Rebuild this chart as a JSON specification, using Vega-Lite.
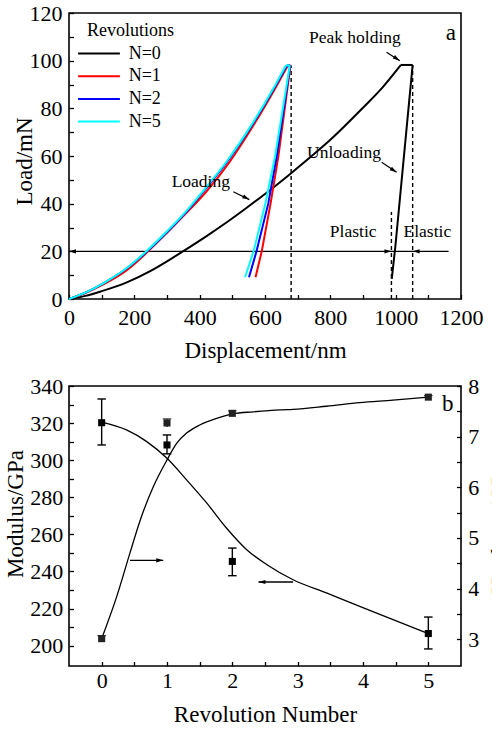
{
  "$schema": "https://vega.github.io/schema/vega-lite/v6.json",
  "padding": {"left": 3, "top": 1, "right": 0, "bottom": 0},
  "spacing": 87,
  "bounds": "flush",
  "datasets": {
    "loading": [
      {"N": "N=0", "d": 0, "L": 0}, {"N": "N=0", "d": 50, "L": 1.3}, {"N": "N=0", "d": 100, "L": 3.3},
      {"N": "N=0", "d": 177, "L": 7}, {"N": "N=0", "d": 250, "L": 11.8}, {"N": "N=0", "d": 300, "L": 15.8},
      {"N": "N=0", "d": 350, "L": 20.1}, {"N": "N=0", "d": 420, "L": 26.3}, {"N": "N=0", "d": 483, "L": 32.2},
      {"N": "N=0", "d": 544, "L": 38.3}, {"N": "N=0", "d": 605, "L": 44.6}, {"N": "N=0", "d": 680, "L": 52.8},
      {"N": "N=0", "d": 750, "L": 60.8}, {"N": "N=0", "d": 800, "L": 66.8}, {"N": "N=0", "d": 901, "L": 80.4},
      {"N": "N=0", "d": 960, "L": 88.8}, {"N": "N=0", "d": 1016, "L": 98.2},
      {"N": "N=1", "d": 0, "L": 0}, {"N": "N=1", "d": 50, "L": 2.5}, {"N": "N=1", "d": 105, "L": 6.1},
      {"N": "N=1", "d": 177, "L": 12.1}, {"N": "N=1", "d": 236, "L": 19.2}, {"N": "N=1", "d": 300, "L": 27.8},
      {"N": "N=1", "d": 350, "L": 34.8}, {"N": "N=1", "d": 420, "L": 45}, {"N": "N=1", "d": 490, "L": 57.2},
      {"N": "N=1", "d": 568, "L": 73.6}, {"N": "N=1", "d": 628, "L": 87.6}, {"N": "N=1", "d": 670, "L": 98},
      {"N": "N=2", "d": 0, "L": 0}, {"N": "N=2", "d": 50, "L": 2.7}, {"N": "N=2", "d": 105, "L": 6.6},
      {"N": "N=2", "d": 177, "L": 12.9}, {"N": "N=2", "d": 229, "L": 18.8}, {"N": "N=2", "d": 300, "L": 28.1},
      {"N": "N=2", "d": 350, "L": 35.2}, {"N": "N=2", "d": 413, "L": 45.4}, {"N": "N=2", "d": 485, "L": 57.8},
      {"N": "N=2", "d": 566, "L": 74.2}, {"N": "N=2", "d": 627, "L": 88.2}, {"N": "N=2", "d": 667, "L": 98},
      {"N": "N=5", "d": 0, "L": 0}, {"N": "N=5", "d": 50, "L": 2.7}, {"N": "N=5", "d": 105, "L": 6.6},
      {"N": "N=5", "d": 177, "L": 13.0}, {"N": "N=5", "d": 227, "L": 18.8}, {"N": "N=5", "d": 300, "L": 28.4},
      {"N": "N=5", "d": 350, "L": 35.5}, {"N": "N=5", "d": 411, "L": 45.4}, {"N": "N=5", "d": 483, "L": 57.8},
      {"N": "N=5", "d": 564, "L": 74.2}, {"N": "N=5", "d": 625, "L": 88.2}, {"N": "N=5", "d": 664, "L": 98}
    ],
    "unloading": [
      {"N": "N=0", "seg": "hold", "d": 1016, "L": 98.2}, {"N": "N=0", "seg": "hold", "d": 1052, "L": 98.2},
      {"N": "N=0", "seg": "unload", "d": 988, "L": 8.4}, {"N": "N=0", "seg": "unload", "d": 999, "L": 22},
      {"N": "N=0", "seg": "unload", "d": 1015, "L": 45}, {"N": "N=0", "seg": "unload", "d": 1033, "L": 71},
      {"N": "N=0", "seg": "unload", "d": 1052, "L": 98.2},
      {"N": "N=1", "seg": "hold", "d": 670, "L": 98}, {"N": "N=1", "seg": "hold", "d": 678, "L": 98},
      {"N": "N=1", "seg": "unload", "d": 571, "L": 9.1}, {"N": "N=1", "seg": "unload", "d": 590, "L": 20},
      {"N": "N=1", "seg": "unload", "d": 617, "L": 40}, {"N": "N=1", "seg": "unload", "d": 641, "L": 60},
      {"N": "N=1", "seg": "unload", "d": 678, "L": 98},
      {"N": "N=2", "seg": "hold", "d": 667, "L": 98}, {"N": "N=2", "seg": "hold", "d": 677, "L": 98},
      {"N": "N=2", "seg": "unload", "d": 551, "L": 9.1}, {"N": "N=2", "seg": "unload", "d": 574, "L": 20},
      {"N": "N=2", "seg": "unload", "d": 610, "L": 40}, {"N": "N=2", "seg": "unload", "d": 636, "L": 60},
      {"N": "N=2", "seg": "unload", "d": 677, "L": 98},
      {"N": "N=5", "seg": "hold", "d": 664, "L": 98}, {"N": "N=5", "seg": "hold", "d": 676, "L": 98},
      {"N": "N=5", "seg": "unload", "d": 539, "L": 9.1}, {"N": "N=5", "seg": "unload", "d": 565, "L": 20},
      {"N": "N=5", "seg": "unload", "d": 601, "L": 40}, {"N": "N=5", "seg": "unload", "d": 631, "L": 60},
      {"N": "N=5", "seg": "unload", "d": 676, "L": 98}
    ],
    "modCurve": [
      {"n": 0, "v": 320.5}, {"n": 0.38, "v": 316.3}, {"n": 0.69, "v": 310}, {"n": 1.0, "v": 301},
      {"n": 1.3, "v": 289.4}, {"n": 1.61, "v": 276.8}, {"n": 1.91, "v": 263.4}, {"n": 2.22, "v": 251.7},
      {"n": 2.53, "v": 243.6}, {"n": 2.93, "v": 235.5}, {"n": 3.44, "v": 228.4}, {"n": 3.95, "v": 221.2},
      {"n": 4.46, "v": 214}, {"n": 5, "v": 206.5}
    ],
    "hardCurve": [
      {"n": 0, "h": 3.01}, {"n": 0.23, "h": 3.84}, {"n": 0.43, "h": 4.69}, {"n": 0.59, "h": 5.35},
      {"n": 0.79, "h": 6.01}, {"n": 1.0, "h": 6.54}, {"n": 1.15, "h": 6.87}, {"n": 1.3, "h": 7.07},
      {"n": 1.5, "h": 7.23}, {"n": 1.76, "h": 7.36}, {"n": 2.01, "h": 7.45}, {"n": 2.32, "h": 7.49},
      {"n": 2.73, "h": 7.53}, {"n": 2.93, "h": 7.54}, {"n": 3.44, "h": 7.6}, {"n": 3.95, "h": 7.67},
      {"n": 4.46, "h": 7.72}, {"n": 5, "h": 7.78}
    ],
    "modErr": [
      {"n": 0, "v": 320.2, "lo": 308.2, "hi": 333},
      {"n": 1, "v": 308.2, "lo": 303.4, "hi": 313.6},
      {"n": 2, "v": 245.4, "lo": 237.7, "hi": 252.6},
      {"n": 5, "v": 206.5, "lo": 198.2, "hi": 215.4}
    ],
    "hardErr": [
      {"n": 0, "h": 3.01, "lo": 2.95, "hi": 3.07},
      {"n": 1, "h": 7.27, "lo": 7.19, "hi": 7.35},
      {"n": 2, "h": 7.46, "lo": 7.41, "hi": 7.51},
      {"n": 5, "h": 7.78, "lo": 7.75, "hi": 7.81}
    ]
  },
  "vconcat": [
    {
      "width": 392,
      "height": 286,
      "layer": [
        {
          "data": {"values": [{"d": 680, "L": 0, "L2": 98}, {"d": 987, "L": 0, "L2": 36.5}, {"d": 1052, "L": 0, "L2": 98}]},
          "mark": {"type": "rule", "strokeDash": [4, 3], "strokeWidth": 1.4, "color": "black"},
          "encoding": {
            "x": {"field": "d", "type": "quantitative", "scale": {"domain": [0, 1200], "nice": false},
              "axis": {"values": [0, 100, 200, 300, 400, 500, 600, 700, 800, 900, 1000, 1100, 1200], "tickCount": 60,
                "labelExpr": "datum.value % 200 === 0 ? datum.label : ''", "tickSize": -4.5, "labelPadding": 13,
                "labelFlush": false, "labelOverlap": false, "format": "d",
                "title": "Displacement/nm", "titleBaseline": "alphabetic", "titleY": 58}},
            "y": {"field": "L", "type": "quantitative", "scale": {"domain": [0, 120], "nice": false},
              "axis": {"values": [0, 10, 20, 30, 40, 50, 60, 70, 80, 90, 100, 110, 120], "tickCount": 60,
                "labelExpr": "datum.value % 20 === 0 ? datum.label : ''", "tickSize": -4.5, "labelPadding": 11.5,
                "labelFlush": false, "labelOverlap": false, "format": "d",
                "title": "Load/mN", "titleBaseline": "alphabetic", "titleX": -37.5, "titleY": 148}},
            "y2": {"field": "L2"}
          }
        },
        {
          "data": {"values": [{"d": 0, "d2": 1162, "L": 20}]},
          "mark": {"type": "rule", "strokeWidth": 1.3, "color": "black"},
          "encoding": {
            "x": {"field": "d", "type": "quantitative"},
            "x2": {"field": "d2"},
            "y": {"field": "L", "type": "quantitative"}
          }
        },
        {
          "data": {"values": [
            {"d": 972, "L": 103.5, "d2": 1012.6, "L2": 100},
            {"d": 957, "L": 57.4, "d2": 1003, "L2": 53.2},
            {"d": 503, "L": 45, "d2": 552, "L2": 41.7}
          ]},
          "mark": {"type": "rule", "strokeWidth": 1.2, "color": "black"},
          "encoding": {
            "x": {"field": "d", "type": "quantitative"},
            "x2": {"field": "d2"},
            "y": {"field": "L", "type": "quantitative"},
            "y2": {"field": "L2"}
          }
        },
        {
          "data": {"name": "loading"},
          "mark": {"type": "line", "strokeWidth": 2, "interpolate": "monotone"},
          "encoding": {
            "x": {"field": "d", "type": "quantitative"},
            "y": {"field": "L", "type": "quantitative"},
            "color": {"field": "N", "type": "nominal",
              "scale": {"domain": ["N=0", "N=1", "N=2", "N=5"], "range": ["#000000", "#ff0000", "#0000ff", "#00ffff"]},
              "legend": {"title": "Revolutions", "orient": "none", "legendX": 18, "legendY": 8.5}}
          }
        },
        {
          "data": {"name": "unloading"},
          "mark": {"type": "line", "strokeWidth": 2, "interpolate": "linear"},
          "encoding": {
            "x": {"field": "d", "type": "quantitative"},
            "y": {"field": "L", "type": "quantitative"},
            "color": {"field": "N", "type": "nominal", "legend": null},
            "detail": {"field": "seg", "type": "nominal"}
          }
        },
        {
          "data": {"values": [{"d": 987, "L": 20}]},
          "mark": {"type": "point", "shape": "M0,0L-2,-0.6L-2,0.6Z", "size": 49, "filled": true, "color": "black", "strokeWidth": 0, "opacity": 1, "angle": 0},
          "encoding": {
            "x": {"field": "d", "type": "quantitative"},
            "y": {"field": "L", "type": "quantitative"}
          }
        },
        {
          "data": {"values": [{"d": 0, "L": 20}, {"d": 1052, "L": 20}]},
          "mark": {"type": "point", "shape": "M0,0L-2,-0.6L-2,0.6Z", "size": 49, "filled": true, "color": "black", "strokeWidth": 0, "opacity": 1, "angle": 180},
          "encoding": {
            "x": {"field": "d", "type": "quantitative"},
            "y": {"field": "L", "type": "quantitative"}
          }
        },
        {
          "data": {"values": [{"d": 1012.6, "L": 100}, {"d": 1003, "L": 53.2}]},
          "mark": {"type": "point", "shape": "M0,0L-2,-0.6L-2,0.6Z", "size": 49, "filled": true, "color": "black", "strokeWidth": 0, "opacity": 1, "angle": 33},
          "encoding": {
            "x": {"field": "d", "type": "quantitative"},
            "y": {"field": "L", "type": "quantitative"}
          }
        },
        {
          "data": {"values": [{"d": 552, "L": 41.7}]},
          "mark": {"type": "point", "shape": "M0,0L-2,-0.6L-2,0.6Z", "size": 49, "filled": true, "color": "black", "strokeWidth": 0, "opacity": 1, "angle": 27},
          "encoding": {
            "x": {"field": "d", "type": "quantitative"},
            "y": {"field": "L", "type": "quantitative"}
          }
        },
        {
          "data": {"values": [
            {"t": "Peak holding", "d": 875, "L": 109.6},
            {"t": "Unloading", "d": 842, "L": 61.3},
            {"t": "Loading", "d": 403.5, "L": 49.2},
            {"t": "Plastic", "d": 870, "L": 28},
            {"t": "Elastic", "d": 1097, "L": 28}
          ]},
          "mark": {"type": "text", "fontSize": 17.5, "align": "center", "baseline": "middle", "color": "black", "font": "Liberation Serif"},
          "encoding": {
            "x": {"field": "d", "type": "quantitative"},
            "y": {"field": "L", "type": "quantitative"},
            "text": {"field": "t"}
          }
        },
        {
          "data": {"values": [{"t": "a", "d": 1169, "L": 111.8}]},
          "mark": {"type": "text", "fontSize": 23, "align": "center", "baseline": "middle", "color": "black", "font": "Liberation Serif"},
          "encoding": {
            "x": {"field": "d", "type": "quantitative"},
            "y": {"field": "L", "type": "quantitative"},
            "text": {"field": "t"}
          }
        }
      ]
    },
    {
      "width": 392,
      "height": 280,
      "layer": [
        {
          "data": {"name": "modCurve"},
          "mark": {"type": "line", "strokeWidth": 1.3, "color": "black", "interpolate": "monotone"},
          "encoding": {
            "x": {"field": "n", "type": "quantitative", "scale": {"domain": [-0.5, 5.5], "nice": false},
              "axis": {"values": [0, 0.5, 1, 1.5, 2, 2.5, 3, 3.5, 4, 4.5, 5], "tickCount": 60,
                "labelExpr": "datum.value % 1 === 0 ? format(datum.value, 'd') : ''", "tickSize": -4.5, "labelPadding": 9.1,
                "labelFlush": false, "labelOverlap": false,
                "title": "Revolution Number", "titleBaseline": "alphabetic", "titleY": 55.7}},
            "y": {"field": "v", "type": "quantitative", "scale": {"domain": [189, 340], "nice": false},
              "axis": {"orient": "left", "values": [200, 210, 220, 230, 240, 250, 260, 270, 280, 290, 300, 310, 320, 330, 340], "tickCount": 60,
                "labelExpr": "datum.value % 20 === 0 ? format(datum.value, 'd') : ''", "tickSize": -4.5, "labelPadding": 10.8,
                "labelFlush": false, "labelOverlap": false,
                "title": "Modulus/GPa", "titleBaseline": "alphabetic", "titleX": -47, "titleY": 127.5}}
          }
        },
        {
          "data": {"name": "modErr"},
          "mark": {"type": "rule", "strokeWidth": 1.4, "color": "black"},
          "encoding": {
            "x": {"field": "n", "type": "quantitative"},
            "y": {"field": "lo", "type": "quantitative", "scale": {"domain": [189, 340], "nice": false}, "axis": null},
            "y2": {"field": "hi"}
          }
        },
        {
          "data": {"name": "modErr"},
          "mark": {"type": "tick", "orient": "horizontal", "size": 8.5, "thickness": 1.4, "color": "black", "opacity": 1},
          "encoding": {
            "x": {"field": "n", "type": "quantitative"},
            "y": {"field": "lo", "type": "quantitative", "scale": {"domain": [189, 340], "nice": false}, "axis": null}
          }
        },
        {
          "data": {"name": "modErr"},
          "mark": {"type": "tick", "orient": "horizontal", "size": 8.5, "thickness": 1.4, "color": "black", "opacity": 1},
          "encoding": {
            "x": {"field": "n", "type": "quantitative"},
            "y": {"field": "hi", "type": "quantitative", "scale": {"domain": [189, 340], "nice": false}, "axis": null}
          }
        },
        {
          "data": {"name": "modErr"},
          "mark": {"type": "point", "shape": "square", "size": 50, "filled": true, "color": "black", "opacity": 1},
          "encoding": {
            "x": {"field": "n", "type": "quantitative"},
            "y": {"field": "v", "type": "quantitative", "scale": {"domain": [189, 340], "nice": false}, "axis": null}
          }
        },
        {
          "data": {"values": [{"n": 0.434, "n2": 0.943, "v": 246}, {"n": 2.4, "n2": 2.93, "v": 234.3}]},
          "mark": {"type": "rule", "strokeWidth": 1.3, "color": "black"},
          "encoding": {
            "x": {"field": "n", "type": "quantitative"},
            "x2": {"field": "n2"},
            "y": {"field": "v", "type": "quantitative", "scale": {"domain": [189, 340], "nice": false}, "axis": null}
          }
        },
        {
          "data": {"values": [{"n": 0.943, "v": 246}]},
          "mark": {"type": "point", "shape": "M0,0L-2,-0.6L-2,0.6Z", "size": 49, "filled": true, "color": "black", "strokeWidth": 0, "opacity": 1, "angle": 0},
          "encoding": {
            "x": {"field": "n", "type": "quantitative"},
            "y": {"field": "v", "type": "quantitative", "scale": {"domain": [189, 340], "nice": false}, "axis": null}
          }
        },
        {
          "data": {"values": [{"n": 2.4, "v": 234.3}]},
          "mark": {"type": "point", "shape": "M0,0L-2,-0.6L-2,0.6Z", "size": 49, "filled": true, "color": "black", "strokeWidth": 0, "opacity": 1, "angle": 180},
          "encoding": {
            "x": {"field": "n", "type": "quantitative"},
            "y": {"field": "v", "type": "quantitative", "scale": {"domain": [189, 340], "nice": false}, "axis": null}
          }
        },
        {
          "data": {"values": [{"t": "b", "n": 5.297, "v": 330.3}]},
          "mark": {"type": "text", "fontSize": 23, "align": "center", "baseline": "middle", "color": "black", "font": "Liberation Serif"},
          "encoding": {
            "x": {"field": "n", "type": "quantitative"},
            "y": {"field": "v", "type": "quantitative", "scale": {"domain": [189, 340], "nice": false}, "axis": null},
            "text": {"field": "t"}
          }
        },
        {
          "data": {"name": "hardCurve"},
          "mark": {"type": "line", "strokeWidth": 1.3, "color": "black", "interpolate": "monotone"},
          "encoding": {
            "x": {"field": "n", "type": "quantitative"},
            "y": {"field": "h", "type": "quantitative", "scale": {"domain": [2.47, 8], "nice": false},
              "axis": {"orient": "right", "values": [3, 3.5, 4, 4.5, 5, 5.5, 6, 6.5, 7, 7.5, 8], "tickCount": 60,
                "labelExpr": "datum.value % 1 === 0 ? format(datum.value, 'd') : ''", "tickSize": -4.5, "labelPadding": 11.2,
                "labelFlush": false, "labelOverlap": false,
                "title": "Hardness/GPa", "titleAngle": 270, "titleBaseline": "alphabetic", "titleX": 45, "titleY": 142}}
          }
        },
        {
          "data": {"name": "hardErr"},
          "mark": {"type": "rule", "strokeWidth": 1.4, "color": "#222222"},
          "encoding": {
            "x": {"field": "n", "type": "quantitative"},
            "y": {"field": "lo", "type": "quantitative", "scale": {"domain": [2.47, 8], "nice": false}, "axis": null},
            "y2": {"field": "hi"}
          }
        },
        {
          "data": {"name": "hardErr"},
          "mark": {"type": "tick", "orient": "horizontal", "size": 8.5, "thickness": 1.2, "color": "#333333", "opacity": 1},
          "encoding": {
            "x": {"field": "n", "type": "quantitative"},
            "y": {"field": "hi", "type": "quantitative", "scale": {"domain": [2.47, 8], "nice": false}, "axis": null}
          }
        },
        {
          "data": {"name": "hardErr"},
          "mark": {"type": "point", "shape": "square", "size": 50, "filled": true, "color": "#222222", "opacity": 1},
          "encoding": {
            "x": {"field": "n", "type": "quantitative"},
            "y": {"field": "h", "type": "quantitative", "scale": {"domain": [2.47, 8], "nice": false}, "axis": null}
          }
        }
      ],
      "resolve": {"scale": {"y": "independent"}}
    }
  ],
  "config": {
    "font": "Liberation Serif",
    "view": {"stroke": "black", "strokeWidth": 1.6},
    "axis": {
      "grid": false, "domain": false, "tickColor": "black", "tickWidth": 1.3, "labelOverlap": false,
      "labelColor": "black", "labelFontSize": 22, "labelFont": "Liberation Serif",
      "titleColor": "black", "titleFontSize": 23, "titleFont": "Liberation Serif", "titleFontWeight": "normal"
    },
    "legend": {
      "titleFontSize": 18, "titleFontWeight": "normal", "titleFont": "Liberation Serif", "titleColor": "black",
      "labelFontSize": 18, "labelFont": "Liberation Serif", "labelColor": "black",
      "symbolType": "M-1.9,0H1.9", "symbolSize": 484, "symbolStrokeWidth": 2,
      "labelOffset": 17.7, "rowPadding": 1.7, "titlePadding": 2.0, "padding": 0
    },
    "text": {"font": "Liberation Serif"}
  }
}
